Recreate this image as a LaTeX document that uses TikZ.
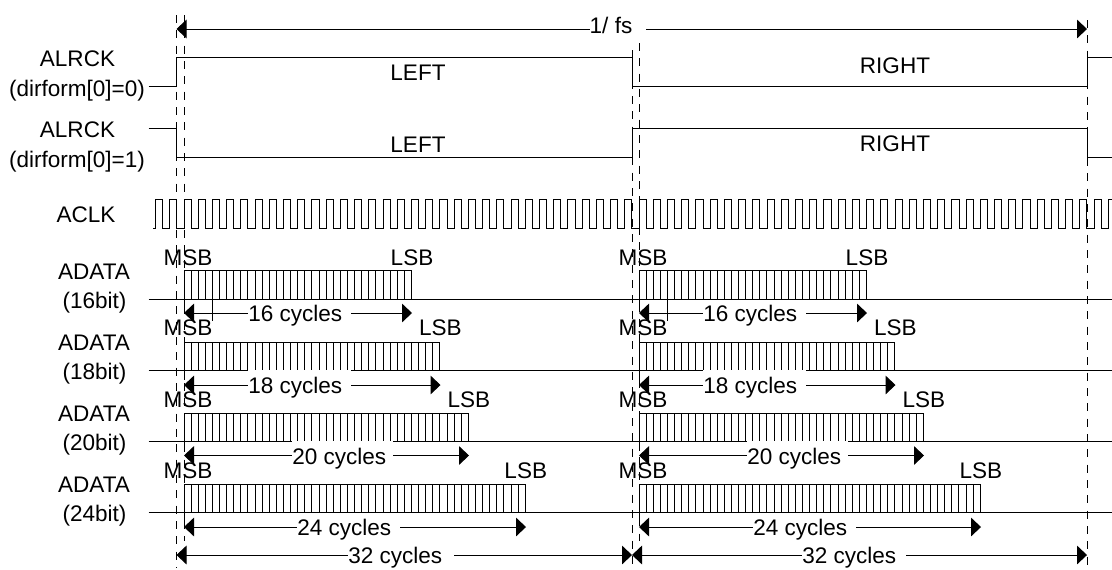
\documentclass[tikz,border=0pt]{standalone}
\usepackage{fontspec}
\setmainfont{Liberation Sans}
\usetikzlibrary{arrows.meta}
\tikzset{
  sig/.style={line width=0.75pt,line join=miter},
  guide/.style={line width=0.75pt,dash pattern=on 6pt off 5.5pt},
  spanL/.style={line width=0.75pt,{Triangle[length=7.5pt,width=14pt]}-},
  spanR/.style={line width=0.75pt,-{Triangle[length=7.5pt,width=14pt]}},
  lab/.style={inner sep=0pt,font=\fontsize{16.9}{18}\selectfont},
  thinout/.style={white,line width=0.35pt},
}
% name, x start, x end, y, left gap end, right gap start, text
\newcommand{\cyclespan}[7]{%
  \node[lab,anchor=base west] (#1) at (#5,{#4+8.7}) {#7};
  \coordinate (#1s) at (#2,#4);
  \coordinate (#1e) at (#3,#4);
  \coordinate (#1a) at (#5,#4);
  \coordinate (#1b) at (#6,#4);
  \draw[spanL] (#1s) -- (#1a);
  \draw[spanR] (#1b) -- (#1e);
}
% name, x start, bits, top y, label row y
\newcommand{\databurst}[5]{%
  \pgfmathsetmacro{\xend}{#2+14.22*#3}
  \draw[sig] (#2,#4+28.5) -- (#2,#4) -- (\xend,#4) -- (\xend,#4+28.5);
  \pgfmathtruncatemacro{\nt}{2*#3-1}
  \foreach \k in {1,...,\nt} { \draw[sig] ({#2+7.11*\k},#4) -- ({#2+7.11*\k},#4+28.5); }
  \draw[sig] (#2,#4+28.5) -- (#2,#4+38);
  \node[lab] (#1m) at (#2+4,#5) {MSB};
  \node[lab] (#1l) at (\xend+0.5,#5) {LSB};
}
\begin{document}
\begin{tikzpicture}[x=0.75pt,y=-0.75pt]
\useasboundingbox (0,0) rectangle (1112,569);
% guides
\draw[guide] (176.5,15) -- (176.5,568);
\draw[guide] (184,15) -- (184,541);
\draw[guide] (632,50) -- (632,568);
\draw[guide] (639,43) -- (639,541);
\draw[guide] (1087,20) -- (1087,568);
% top span
\node[lab] (fs) at (611,25) {1/ fs};
\coordinate (fsS) at (176.5,29); \coordinate (fsE) at (1087,29);
\coordinate (fsA) at (590,29); \coordinate (fsB) at (646,29);
\draw[spanL] (fsS) -- (fsA);
\draw[spanR] (fsB) -- (fsE);
% ALRCK
\draw[sig] (148.5,86) -- (176.5,86) -- (176.5,57.5) -- (632,57.5) -- (632,86) -- (1087,86) -- (1087,57.5) -- (1112,57.5);
\draw[sig] (148.5,128.5) -- (176.5,128.5) -- (176.5,157) -- (632,157) -- (632,128.5) -- (1087,128.5) -- (1087,157) -- (1112,157);
% ACLK
\draw[sig] (153,228) foreach \k in {-2,...,64} { -- ({184+14.22*\k},228) -- ({184+14.22*\k},199.5) -- ({191.11+14.22*\k},199.5) -- ({191.11+14.22*\k},228) } -- (1108.3,228) -- (1108.3,199.5) -- (1112,199.5);
% base lines
\foreach \y in {299,370,441,512.5} { \draw[sig] (148.5,\y) -- (1112,\y); }
% bursts
\databurst{da}{184}{16}{270.5}{258}
\databurst{db}{184}{18}{342}{328}
\databurst{dc}{184}{20}{413}{400}
\databurst{dd}{184}{24}{484.5}{471}
\databurst{ea}{639}{16}{270.5}{258}
\databurst{eb}{639}{18}{342}{328}
\databurst{ec}{639}{20}{413}{400}
\databurst{ed}{639}{24}{484.5}{471}
\draw[sig] (212.5,299) -- (212.5,321);
\draw[sig] (667.5,299) -- (667.5,321);
% baseline thinned where the text boxes reach it
\draw[thinout] (248,370.5) -- (351,370.5);
\draw[thinout] (703,370.5) -- (806,370.5);
\draw[thinout] (292,441.5) -- (393,441.5);
\draw[thinout] (747,441.5) -- (848,441.5);
\draw[thinout] (297,513) -- (400,513);
\draw[thinout] (753,513) -- (856,513);
% cycle spans
\cyclespan{ca}{184}{412}{313}{248}{351}{16 cycles}
\cyclespan{cb}{184}{440.5}{385}{248}{351}{18 cycles}
\cyclespan{cc}{184}{469}{455.5}{292}{393}{20 cycles}
\cyclespan{cd}{184}{526}{527}{297}{400}{24 cycles}
\cyclespan{ce}{176.5}{632}{555}{348}{454}{32 cycles}
\cyclespan{fa}{639}{867}{313}{703}{806}{16 cycles}
\cyclespan{fb}{639}{895.5}{385}{703}{806}{18 cycles}
\cyclespan{fc}{639}{924}{455.5}{747}{848}{20 cycles}
\cyclespan{fd}{639}{981}{527}{753}{856}{24 cycles}
\cyclespan{fe}{632}{1087}{555}{802}{906}{32 cycles}
% labels
\node[lab] (l1) at (77.5,59) {ALRCK};
\node[lab] (l2) at (77,91) {(dirform[0]=0)};
\node[lab] (l3) at (77.5,130) {ALRCK};
\node[lab] (l4) at (77,162) {(dirform[0]=1)};
\node[lab] (l5) at (86,215) {ACLK};
\node[lab] (l6) at (94,272) {ADATA};
\node[lab] (l7) at (94.5,303) {(16bit)};
\node[lab] (l8) at (94,343) {ADATA};
\node[lab] (l9) at (94.5,374) {(18bit)};
\node[lab] (l10) at (94,414) {ADATA};
\node[lab] (l11) at (94.5,445) {(20bit)};
\node[lab] (l12) at (94,485) {ADATA};
\node[lab] (l13) at (94.5,516) {(24bit)};
\node[lab] (t1) at (418,73) {LEFT};
\node[lab] (t2) at (895,66) {RIGHT};
\node[lab] (t3) at (418,145) {LEFT};
\node[lab] (t4) at (895,144) {RIGHT};
\end{tikzpicture}
\end{document}
